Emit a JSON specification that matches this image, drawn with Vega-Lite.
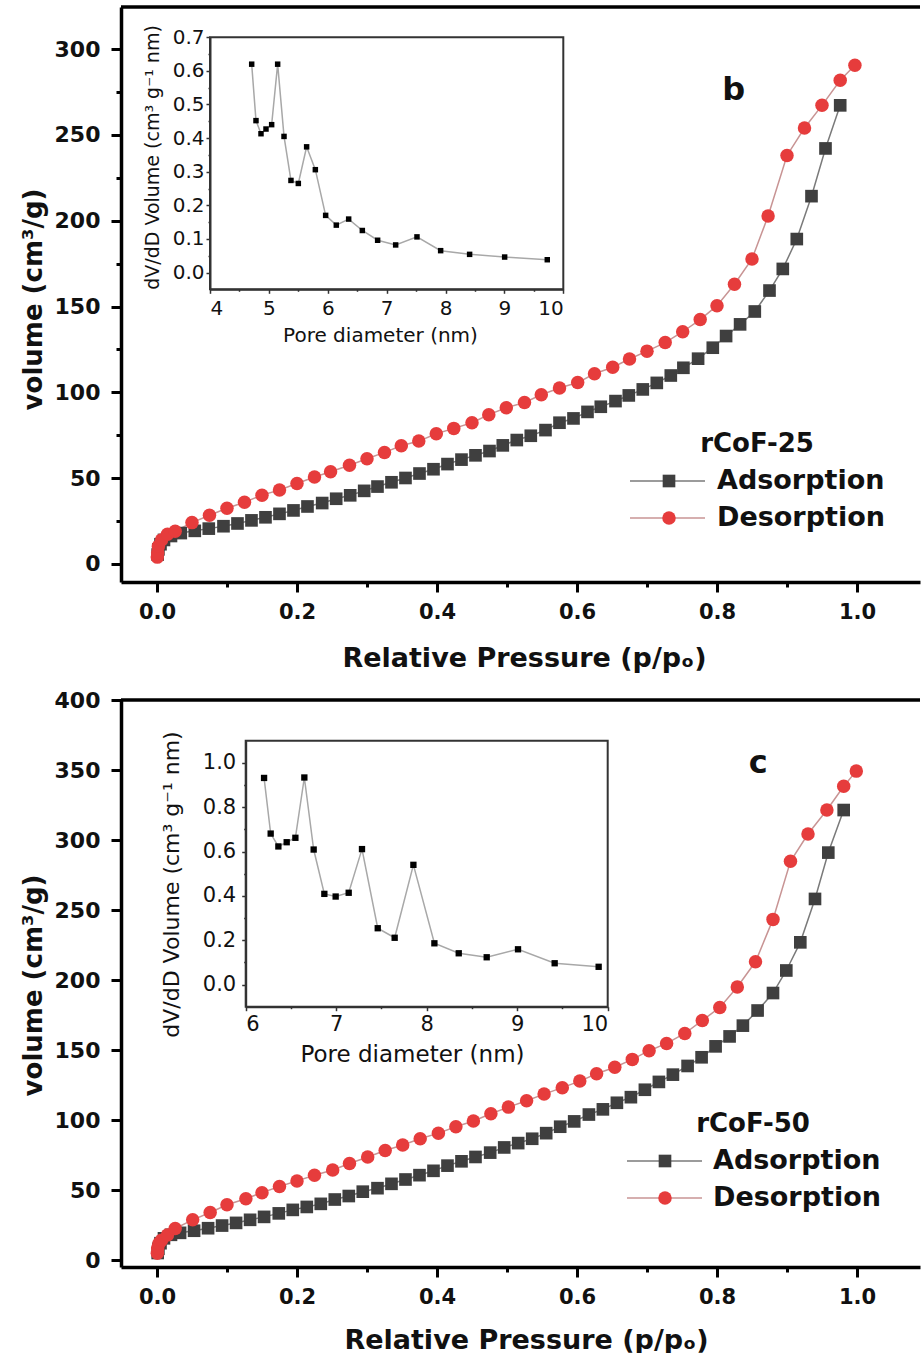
{
  "$schema": "https://vega.github.io/schema/vega-lite/v6.json",
  "background": "white",
  "padding": {"left": 20, "top": 5, "right": 0, "bottom": 0},
  "autosize": {"type": "pad"},
  "bounds": "flush",
  "spacing": 118,
  "resolve": {"scale": {"color": "independent", "shape": "independent", "size": "independent", "stroke": "independent"}, "legend": {"color": "independent", "stroke": "independent"}},
  "config": {
    "view": {"stroke": null},
    "axis": {
      "grid": false,
      "domainColor": "#000",
      "domainWidth": 3.5,
      "tickColor": "#000",
      "tickWidth": 3,
      "labelFont": "DejaVu Sans",
      "labelFontWeight": "bold",
      "labelColor": "#111",
      "titleFont": "DejaVu Sans",
      "titleFontWeight": "bold",
      "titleColor": "#111"
    },
    "legend": {
      "titleFont": "DejaVu Sans", "titleFontSize": 26, "titleFontWeight": "bold", "titleColor": "#111", "titlePadding": 10, "titleLimit": 0, "titleAnchor": "middle",
      "labelFont": "DejaVu Sans", "labelFontSize": 27, "labelFontWeight": "bold", "labelColor": "#111", "labelLimit": 0,
      "clipHeight": 28, "rowPadding": 9
    }
  },
  "datasets": {
    "iso25": [
      {"p": 0.001, "v": 5.5, "branch": "Adsorption"},
      {"p": 0.002, "v": 8.5, "branch": "Adsorption"},
      {"p": 0.005, "v": 11.5, "branch": "Adsorption"},
      {"p": 0.01, "v": 14.0, "branch": "Adsorption"},
      {"p": 0.02, "v": 16.3, "branch": "Adsorption"},
      {"p": 0.034, "v": 18.0, "branch": "Adsorption"},
      {"p": 0.054, "v": 19.3, "branch": "Adsorption"},
      {"p": 0.074, "v": 20.6, "branch": "Adsorption"},
      {"p": 0.095, "v": 22.0, "branch": "Adsorption"},
      {"p": 0.115, "v": 23.6, "branch": "Adsorption"},
      {"p": 0.135, "v": 25.4, "branch": "Adsorption"},
      {"p": 0.155, "v": 27.2, "branch": "Adsorption"},
      {"p": 0.175, "v": 29.2, "branch": "Adsorption"},
      {"p": 0.195, "v": 31.2, "branch": "Adsorption"},
      {"p": 0.215, "v": 33.5, "branch": "Adsorption"},
      {"p": 0.236, "v": 35.5, "branch": "Adsorption"},
      {"p": 0.256, "v": 38.0, "branch": "Adsorption"},
      {"p": 0.276, "v": 40.0, "branch": "Adsorption"},
      {"p": 0.296, "v": 42.6, "branch": "Adsorption"},
      {"p": 0.315, "v": 45.1, "branch": "Adsorption"},
      {"p": 0.335, "v": 47.6, "branch": "Adsorption"},
      {"p": 0.355, "v": 50.1, "branch": "Adsorption"},
      {"p": 0.375, "v": 52.7, "branch": "Adsorption"},
      {"p": 0.395, "v": 55.2, "branch": "Adsorption"},
      {"p": 0.415, "v": 58.2, "branch": "Adsorption"},
      {"p": 0.435, "v": 60.8, "branch": "Adsorption"},
      {"p": 0.455, "v": 63.3, "branch": "Adsorption"},
      {"p": 0.475, "v": 65.8, "branch": "Adsorption"},
      {"p": 0.494, "v": 69.1, "branch": "Adsorption"},
      {"p": 0.514, "v": 72.2, "branch": "Adsorption"},
      {"p": 0.534, "v": 74.7, "branch": "Adsorption"},
      {"p": 0.555, "v": 78.0, "branch": "Adsorption"},
      {"p": 0.575, "v": 82.3, "branch": "Adsorption"},
      {"p": 0.595, "v": 84.8, "branch": "Adsorption"},
      {"p": 0.615, "v": 88.6, "branch": "Adsorption"},
      {"p": 0.634, "v": 91.6, "branch": "Adsorption"},
      {"p": 0.655, "v": 94.9, "branch": "Adsorption"},
      {"p": 0.674, "v": 98.2, "branch": "Adsorption"},
      {"p": 0.694, "v": 101.7, "branch": "Adsorption"},
      {"p": 0.714, "v": 105.5, "branch": "Adsorption"},
      {"p": 0.734, "v": 109.8, "branch": "Adsorption"},
      {"p": 0.752, "v": 114.3, "branch": "Adsorption"},
      {"p": 0.773, "v": 119.6, "branch": "Adsorption"},
      {"p": 0.794, "v": 126.0, "branch": "Adsorption"},
      {"p": 0.813, "v": 132.8, "branch": "Adsorption"},
      {"p": 0.833, "v": 139.6, "branch": "Adsorption"},
      {"p": 0.854, "v": 147.1, "branch": "Adsorption"},
      {"p": 0.875, "v": 159.3, "branch": "Adsorption"},
      {"p": 0.894, "v": 171.9, "branch": "Adsorption"},
      {"p": 0.914, "v": 189.3, "branch": "Adsorption"},
      {"p": 0.935, "v": 214.3, "branch": "Adsorption"},
      {"p": 0.955, "v": 242.1, "branch": "Adsorption"},
      {"p": 0.976, "v": 267.2, "branch": "Adsorption"},
      {"p": 0.0005, "v": 4.0, "branch": "Desorption"},
      {"p": 0.001, "v": 6.5, "branch": "Desorption"},
      {"p": 0.002, "v": 10.3, "branch": "Desorption"},
      {"p": 0.0065, "v": 14.0, "branch": "Desorption"},
      {"p": 0.015, "v": 17.3, "branch": "Desorption"},
      {"p": 0.026, "v": 19.1, "branch": "Desorption"},
      {"p": 0.05, "v": 24.1, "branch": "Desorption"},
      {"p": 0.075, "v": 28.4, "branch": "Desorption"},
      {"p": 0.1, "v": 32.5, "branch": "Desorption"},
      {"p": 0.125, "v": 36.0, "branch": "Desorption"},
      {"p": 0.15, "v": 40.1, "branch": "Desorption"},
      {"p": 0.175, "v": 43.1, "branch": "Desorption"},
      {"p": 0.2, "v": 46.9, "branch": "Desorption"},
      {"p": 0.225, "v": 50.7, "branch": "Desorption"},
      {"p": 0.248, "v": 53.7, "branch": "Desorption"},
      {"p": 0.275, "v": 57.5, "branch": "Desorption"},
      {"p": 0.3, "v": 61.3, "branch": "Desorption"},
      {"p": 0.325, "v": 65.0, "branch": "Desorption"},
      {"p": 0.349, "v": 68.9, "branch": "Desorption"},
      {"p": 0.374, "v": 71.6, "branch": "Desorption"},
      {"p": 0.399, "v": 75.9, "branch": "Desorption"},
      {"p": 0.424, "v": 79.0, "branch": "Desorption"},
      {"p": 0.45, "v": 82.3, "branch": "Desorption"},
      {"p": 0.474, "v": 87.0, "branch": "Desorption"},
      {"p": 0.499, "v": 91.0, "branch": "Desorption"},
      {"p": 0.525, "v": 94.1, "branch": "Desorption"},
      {"p": 0.549, "v": 98.6, "branch": "Desorption"},
      {"p": 0.575, "v": 102.5, "branch": "Desorption"},
      {"p": 0.601, "v": 105.7, "branch": "Desorption"},
      {"p": 0.625, "v": 110.8, "branch": "Desorption"},
      {"p": 0.651, "v": 114.6, "branch": "Desorption"},
      {"p": 0.675, "v": 119.4, "branch": "Desorption"},
      {"p": 0.7, "v": 124.0, "branch": "Desorption"},
      {"p": 0.726, "v": 129.0, "branch": "Desorption"},
      {"p": 0.751, "v": 135.3, "branch": "Desorption"},
      {"p": 0.776, "v": 142.4, "branch": "Desorption"},
      {"p": 0.8, "v": 150.5, "branch": "Desorption"},
      {"p": 0.825, "v": 163.0, "branch": "Desorption"},
      {"p": 0.85, "v": 177.7, "branch": "Desorption"},
      {"p": 0.873, "v": 202.7, "branch": "Desorption"},
      {"p": 0.9, "v": 238.0, "branch": "Desorption"},
      {"p": 0.925, "v": 254.0, "branch": "Desorption"},
      {"p": 0.95, "v": 267.2, "branch": "Desorption"},
      {"p": 0.976, "v": 281.8, "branch": "Desorption"},
      {"p": 0.997, "v": 290.6, "branch": "Desorption"}
    ],
    "iso50": [
      {"p": 0.001, "v": 5.0, "branch": "Adsorption"},
      {"p": 0.002, "v": 8.0, "branch": "Adsorption"},
      {"p": 0.005, "v": 12.0, "branch": "Adsorption"},
      {"p": 0.01, "v": 15.5, "branch": "Adsorption"},
      {"p": 0.02, "v": 18.0, "branch": "Adsorption"},
      {"p": 0.033, "v": 19.4, "branch": "Adsorption"},
      {"p": 0.053, "v": 20.9, "branch": "Adsorption"},
      {"p": 0.073, "v": 22.7, "branch": "Adsorption"},
      {"p": 0.093, "v": 24.6, "branch": "Adsorption"},
      {"p": 0.113, "v": 26.5, "branch": "Adsorption"},
      {"p": 0.133, "v": 28.7, "branch": "Adsorption"},
      {"p": 0.153, "v": 30.8, "branch": "Adsorption"},
      {"p": 0.174, "v": 33.3, "branch": "Adsorption"},
      {"p": 0.194, "v": 35.8, "branch": "Adsorption"},
      {"p": 0.214, "v": 37.9, "branch": "Adsorption"},
      {"p": 0.234, "v": 40.1, "branch": "Adsorption"},
      {"p": 0.254, "v": 43.2, "branch": "Adsorption"},
      {"p": 0.274, "v": 45.7, "branch": "Adsorption"},
      {"p": 0.294, "v": 48.8, "branch": "Adsorption"},
      {"p": 0.315, "v": 51.3, "branch": "Adsorption"},
      {"p": 0.335, "v": 54.4, "branch": "Adsorption"},
      {"p": 0.355, "v": 57.5, "branch": "Adsorption"},
      {"p": 0.375, "v": 60.6, "branch": "Adsorption"},
      {"p": 0.395, "v": 63.7, "branch": "Adsorption"},
      {"p": 0.415, "v": 67.4, "branch": "Adsorption"},
      {"p": 0.435, "v": 70.5, "branch": "Adsorption"},
      {"p": 0.455, "v": 73.6, "branch": "Adsorption"},
      {"p": 0.476, "v": 76.7, "branch": "Adsorption"},
      {"p": 0.496, "v": 80.4, "branch": "Adsorption"},
      {"p": 0.516, "v": 83.5, "branch": "Adsorption"},
      {"p": 0.536, "v": 86.6, "branch": "Adsorption"},
      {"p": 0.556, "v": 90.6, "branch": "Adsorption"},
      {"p": 0.576, "v": 95.2, "branch": "Adsorption"},
      {"p": 0.596, "v": 99.0, "branch": "Adsorption"},
      {"p": 0.617, "v": 103.9, "branch": "Adsorption"},
      {"p": 0.637, "v": 107.6, "branch": "Adsorption"},
      {"p": 0.657, "v": 112.3, "branch": "Adsorption"},
      {"p": 0.677, "v": 116.3, "branch": "Adsorption"},
      {"p": 0.697, "v": 121.6, "branch": "Adsorption"},
      {"p": 0.717, "v": 127.2, "branch": "Adsorption"},
      {"p": 0.737, "v": 132.4, "branch": "Adsorption"},
      {"p": 0.758, "v": 138.6, "branch": "Adsorption"},
      {"p": 0.778, "v": 144.8, "branch": "Adsorption"},
      {"p": 0.798, "v": 152.6, "branch": "Adsorption"},
      {"p": 0.818, "v": 159.7, "branch": "Adsorption"},
      {"p": 0.837, "v": 167.4, "branch": "Adsorption"},
      {"p": 0.858, "v": 178.2, "branch": "Adsorption"},
      {"p": 0.88, "v": 190.7, "branch": "Adsorption"},
      {"p": 0.899, "v": 206.8, "branch": "Adsorption"},
      {"p": 0.919, "v": 226.9, "branch": "Adsorption"},
      {"p": 0.94, "v": 257.9, "branch": "Adsorption"},
      {"p": 0.959, "v": 291.0, "branch": "Adsorption"},
      {"p": 0.981, "v": 321.4, "branch": "Adsorption"},
      {"p": 0.0005, "v": 4.8, "branch": "Desorption"},
      {"p": 0.001, "v": 8.5, "branch": "Desorption"},
      {"p": 0.003, "v": 12.0, "branch": "Desorption"},
      {"p": 0.0065, "v": 14.1, "branch": "Desorption"},
      {"p": 0.015, "v": 17.8, "branch": "Desorption"},
      {"p": 0.026, "v": 22.5, "branch": "Desorption"},
      {"p": 0.051, "v": 28.7, "branch": "Desorption"},
      {"p": 0.076, "v": 33.9, "branch": "Desorption"},
      {"p": 0.1, "v": 39.5, "branch": "Desorption"},
      {"p": 0.127, "v": 43.8, "branch": "Desorption"},
      {"p": 0.15, "v": 48.1, "branch": "Desorption"},
      {"p": 0.175, "v": 52.5, "branch": "Desorption"},
      {"p": 0.2, "v": 56.5, "branch": "Desorption"},
      {"p": 0.225, "v": 60.5, "branch": "Desorption"},
      {"p": 0.251, "v": 64.3, "branch": "Desorption"},
      {"p": 0.275, "v": 68.9, "branch": "Desorption"},
      {"p": 0.301, "v": 73.6, "branch": "Desorption"},
      {"p": 0.326, "v": 78.2, "branch": "Desorption"},
      {"p": 0.351, "v": 82.2, "branch": "Desorption"},
      {"p": 0.376, "v": 86.6, "branch": "Desorption"},
      {"p": 0.402, "v": 90.6, "branch": "Desorption"},
      {"p": 0.427, "v": 95.2, "branch": "Desorption"},
      {"p": 0.452, "v": 99.3, "branch": "Desorption"},
      {"p": 0.477, "v": 104.5, "branch": "Desorption"},
      {"p": 0.502, "v": 109.2, "branch": "Desorption"},
      {"p": 0.528, "v": 113.8, "branch": "Desorption"},
      {"p": 0.553, "v": 118.5, "branch": "Desorption"},
      {"p": 0.579, "v": 123.1, "branch": "Desorption"},
      {"p": 0.604, "v": 127.8, "branch": "Desorption"},
      {"p": 0.628, "v": 133.0, "branch": "Desorption"},
      {"p": 0.654, "v": 137.7, "branch": "Desorption"},
      {"p": 0.679, "v": 143.3, "branch": "Desorption"},
      {"p": 0.703, "v": 149.5, "branch": "Desorption"},
      {"p": 0.728, "v": 154.7, "branch": "Desorption"},
      {"p": 0.754, "v": 161.8, "branch": "Desorption"},
      {"p": 0.779, "v": 171.1, "branch": "Desorption"},
      {"p": 0.804, "v": 180.4, "branch": "Desorption"},
      {"p": 0.829, "v": 195.0, "branch": "Desorption"},
      {"p": 0.855, "v": 213.0, "branch": "Desorption"},
      {"p": 0.88, "v": 243.3, "branch": "Desorption"},
      {"p": 0.905, "v": 284.8, "branch": "Desorption"},
      {"p": 0.93, "v": 304.3, "branch": "Desorption"},
      {"p": 0.957, "v": 321.4, "branch": "Desorption"},
      {"p": 0.981, "v": 338.4, "branch": "Desorption"},
      {"p": 0.999, "v": 349.2, "branch": "Desorption"}
    ],
    "psd25": [
      {"d": 4.708, "dv": 0.62},
      {"d": 4.781, "dv": 0.452},
      {"d": 4.866, "dv": 0.413},
      {"d": 4.951, "dv": 0.427},
      {"d": 5.047, "dv": 0.44},
      {"d": 5.149, "dv": 0.62},
      {"d": 5.257, "dv": 0.405},
      {"d": 5.375, "dv": 0.274},
      {"d": 5.5, "dv": 0.265},
      {"d": 5.641, "dv": 0.374},
      {"d": 5.789, "dv": 0.306},
      {"d": 5.964, "dv": 0.17},
      {"d": 6.145, "dv": 0.141},
      {"d": 6.355, "dv": 0.159},
      {"d": 6.587, "dv": 0.125},
      {"d": 6.847, "dv": 0.096},
      {"d": 7.153, "dv": 0.082},
      {"d": 7.515, "dv": 0.106},
      {"d": 7.917, "dv": 0.065},
      {"d": 8.409, "dv": 0.054},
      {"d": 9.004, "dv": 0.046},
      {"d": 9.728, "dv": 0.038}
    ],
    "psd50": [
      {"d": 6.203, "dv": 0.932},
      {"d": 6.276, "dv": 0.681},
      {"d": 6.361, "dv": 0.623},
      {"d": 6.453, "dv": 0.642},
      {"d": 6.549, "dv": 0.662},
      {"d": 6.648, "dv": 0.934},
      {"d": 6.751, "dv": 0.609},
      {"d": 6.869, "dv": 0.409},
      {"d": 6.994, "dv": 0.397},
      {"d": 7.138, "dv": 0.414},
      {"d": 7.285, "dv": 0.611},
      {"d": 7.459, "dv": 0.254},
      {"d": 7.646, "dv": 0.211},
      {"d": 7.853, "dv": 0.54},
      {"d": 8.085, "dv": 0.186},
      {"d": 8.354, "dv": 0.141},
      {"d": 8.663, "dv": 0.123},
      {"d": 9.009, "dv": 0.159},
      {"d": 9.414, "dv": 0.096},
      {"d": 9.9, "dv": 0.08}
    ]
  },
  "vconcat": [
    {
      "width": 799,
      "height": 575,
      "layer": [
        {
          "data": {"name": "iso25"},
          "layer": [
            {
              "mark": {"type": "line", "strokeWidth": 1.5},
              "encoding": {
                "x": {"field": "p", "type": "quantitative",
                  "scale": {"domain": [-0.0514, 1.09], "nice": false, "zero": false},
                  "axis": {"orient": "bottom", "title": "Relative Pressure (p/pₒ)",
                    "values": [0, 0.1, 0.2, 0.3, 0.4, 0.5, 0.6, 0.7, 0.8, 0.9, 1],
                    "labelExpr": "round(datum.value*10) % 2 == 0 ? format(datum.value, '.1f') : ''",
                    "tickSize": {"condition": {"test": "round(datum.value*10) % 2 == 1", "value": 5}, "value": 10},
                    "labelFontSize": 21, "labelPadding": 9,
                    "titleFontSize": 27, "titleX": 403, "titleY": 76, "titleBaseline": "middle"}},
                "y": {"field": "v", "type": "quantitative",
                  "scale": {"domain": [-10.5, 324.5], "nice": false, "zero": false},
                  "axis": {"orient": "left", "title": "volume (cm³/g)",
                    "values": [0, 25, 50, 75, 100, 125, 150, 175, 200, 225, 250, 275, 300],
                    "labelExpr": "datum.value % 50 == 0 ? format(datum.value, 'd') : ''",
                    "tickSize": {"condition": {"test": "datum.value % 50 != 0", "value": 5}, "value": 10},
                    "labelFontSize": 22, "labelPadding": 11,
                    "titleFontSize": 26, "titleX": -88, "titleY": 292, "titleBaseline": "middle"}},
                "stroke": {"field": "branch", "type": "nominal",
                  "scale": {"range": ["#7a7a7a", "#c89494"]},
                  "legend": {"orient": "none", "legendX": 508, "legendY": 460, "title": null,
                    "symbolType": "stroke", "symbolSize": 5625, "symbolStrokeWidth": 1.5,
                    "labelExpr": "''", "labelOffset": 10}}
              }
            },
            {
              "mark": {"type": "point", "filled": true, "opacity": 1},
              "encoding": {
                "x": {"field": "p", "type": "quantitative"},
                "y": {"field": "v", "type": "quantitative"},
                "shape": {"field": "branch", "type": "nominal", "scale": {"domain": ["Adsorption", "Desorption"], "range": ["square", "circle"]}, "legend": null},
                "size": {"field": "branch", "type": "nominal", "scale": {"domain": ["Adsorption", "Desorption"], "range": [160, 182]}, "legend": null},
                "color": {"field": "branch", "type": "nominal",
                  "scale": {"domain": ["Adsorption", "Desorption"], "range": ["#3f3f3f", "#e63c3c"]},
                  "legend": {"orient": "none", "legendX": 508, "legendY": 424, "title": "rCoF-25",
                    "symbolOffset": 26.5, "labelOffset": 34.5, "symbolStrokeWidth": 0}}
              }
            },
            {
              "data": {"values": [{"top": 324.5}]},
              "mark": {"type": "rule", "color": "#000", "strokeWidth": 3.5},
              "encoding": {"y": {"field": "top", "type": "quantitative"}}
            },
            {
              "data": {"values": [{"px": 0.824, "py": 270.3, "label": "b"}]},
              "mark": {"type": "text", "font": "DejaVu Sans", "fontWeight": "bold", "fontSize": 32, "align": "center", "baseline": "alphabetic", "color": "#111"},
              "encoding": {"x": {"field": "px", "type": "quantitative"}, "y": {"field": "py", "type": "quantitative"}, "text": {"field": "label"}}
            }
          ]
        },
        {
          "data": {"name": "psd25"},
          "layer": [
            {
              "mark": {"type": "line", "color": "#a8a8a8", "strokeWidth": 1.5},
              "encoding": {
                "x": {"field": "d", "type": "quantitative",
                  "scale": {"domain": [4, 10], "range": [89, 442.3], "nice": false, "zero": false},
                  "axis": {"orient": "bottom", "offset": -292.7, "title": "Pore diameter (nm)",
                    "values": [4, 4.5, 5, 5.5, 6, 6.5, 7, 7.5, 8, 8.5, 9, 9.5, 10],
                    "labelExpr": "datum.value % 1 == 0 ? format(datum.value, 'd') : ''",
                    "tickSize": {"condition": {"test": "datum.value % 1 != 0", "value": 2}, "value": 4},
                    "domainColor": "#333", "domainWidth": 2, "tickColor": "#333", "tickWidth": 1.5,
                    "labelFontWeight": "normal", "labelFontSize": 20, "labelPadding": 5,
                    "titleFontWeight": "normal", "titleFontSize": 20, "titleX": 259, "titleY": 46, "titleBaseline": "middle"}},
                "y": {"field": "dv", "type": "quantitative",
                  "scale": {"domain": [-0.05, 0.7], "range": [282.3, 30.3], "nice": false, "zero": false},
                  "axis": {"orient": "left", "offset": -89, "title": "dV/dD Volume (cm³ g⁻¹ nm)",
                    "values": [0, 0.05, 0.1, 0.15, 0.2, 0.25, 0.3, 0.35, 0.4, 0.45, 0.5, 0.55, 0.6, 0.65, 0.7],
                    "labelExpr": "round(datum.value*100) % 10 == 0 ? format(datum.value, '.1f') : ''",
                    "tickSize": {"condition": {"test": "round(datum.value*100) % 10 != 0", "value": 2}, "value": 4},
                    "domainColor": "#333", "domainWidth": 2, "tickColor": "#333", "tickWidth": 1.5,
                    "labelFontWeight": "normal", "labelFontSize": 20, "labelPadding": 2,
                    "titleFontWeight": "normal", "titleFontSize": 19, "titleX": -58, "titleY": 150, "titleBaseline": "middle"}}
              }
            },
            {
              "mark": {"type": "point", "shape": "square", "filled": true, "color": "#000", "size": 30, "opacity": 1},
              "encoding": {
                "x": {"field": "d", "type": "quantitative"},
                "y": {"field": "dv", "type": "quantitative"}
              }
            },
            {
              "data": {"values": [{"x1": 4, "x2": 10, "y1": -0.05, "y2": 0.7}]},
              "mark": {"type": "rect", "filled": false, "stroke": "#333", "strokeWidth": 2},
              "encoding": {"x": {"field": "x1", "type": "quantitative"}, "x2": {"field": "x2"}, "y": {"field": "y1", "type": "quantitative"}, "y2": {"field": "y2"}}
            }
          ]
        }
      ],
      "resolve": {"scale": {"x": "independent", "y": "independent"}, "axis": {"x": "independent", "y": "independent"}}
    },
    {
      "width": 799,
      "height": 567,
      "layer": [
        {
          "data": {"name": "iso50"},
          "layer": [
            {
              "mark": {"type": "line", "strokeWidth": 1.5},
              "encoding": {
                "x": {"field": "p", "type": "quantitative",
                  "scale": {"domain": [-0.0514, 1.09], "nice": false, "zero": false},
                  "axis": {"orient": "bottom", "title": "Relative Pressure (p/pₒ)",
                    "values": [0, 0.1, 0.2, 0.3, 0.4, 0.5, 0.6, 0.7, 0.8, 0.9, 1],
                    "labelExpr": "round(datum.value*10) % 2 == 0 ? format(datum.value, '.1f') : ''",
                    "tickSize": {"condition": {"test": "round(datum.value*10) % 2 == 1", "value": 5}, "value": 10},
                    "labelFontSize": 21, "labelPadding": 9,
                    "titleFontSize": 27, "titleX": 405, "titleY": 73, "titleBaseline": "middle"}},
                "y": {"field": "v", "type": "quantitative",
                  "scale": {"domain": [-5, 400], "nice": false, "zero": false},
                  "axis": {"orient": "left", "title": "volume (cm³/g)",
                    "values": [0, 25, 50, 75, 100, 125, 150, 175, 200, 225, 250, 275, 300, 325, 350, 375, 400],
                    "labelExpr": "datum.value % 50 == 0 ? format(datum.value, 'd') : ''",
                    "tickSize": {"condition": {"test": "datum.value % 50 != 0", "value": 5}, "value": 10},
                    "labelFontSize": 22, "labelPadding": 11,
                    "titleFontSize": 26, "titleX": -88, "titleY": 285, "titleBaseline": "middle"}},
                "stroke": {"field": "branch", "type": "nominal",
                  "scale": {"range": ["#7a7a7a", "#c89494"]},
                  "legend": {"orient": "none", "legendX": 505, "legendY": 447, "title": null,
                    "symbolType": "stroke", "symbolSize": 5625, "symbolStrokeWidth": 1.5,
                    "labelExpr": "''", "labelOffset": 10}}
              }
            },
            {
              "mark": {"type": "point", "filled": true, "opacity": 1},
              "encoding": {
                "x": {"field": "p", "type": "quantitative"},
                "y": {"field": "v", "type": "quantitative"},
                "shape": {"field": "branch", "type": "nominal", "scale": {"domain": ["Adsorption", "Desorption"], "range": ["square", "circle"]}, "legend": null},
                "size": {"field": "branch", "type": "nominal", "scale": {"domain": ["Adsorption", "Desorption"], "range": [160, 182]}, "legend": null},
                "color": {"field": "branch", "type": "nominal",
                  "scale": {"domain": ["Adsorption", "Desorption"], "range": ["#3f3f3f", "#e63c3c"]},
                  "legend": {"orient": "none", "legendX": 505, "legendY": 411, "title": "rCoF-50",
                    "symbolOffset": 25.5, "labelOffset": 34.5, "symbolStrokeWidth": 0}}
              }
            },
            {
              "data": {"values": [{"top": 400}]},
              "mark": {"type": "rule", "color": "#000", "strokeWidth": 3.5},
              "encoding": {"y": {"field": "top", "type": "quantitative"}}
            },
            {
              "data": {"values": [{"px": 0.859, "py": 347.9, "label": "c"}]},
              "mark": {"type": "text", "font": "DejaVu Sans", "fontWeight": "bold", "fontSize": 32, "align": "center", "baseline": "alphabetic", "color": "#111"},
              "encoding": {"x": {"field": "px", "type": "quantitative"}, "y": {"field": "py", "type": "quantitative"}, "text": {"field": "label"}}
            }
          ]
        },
        {
          "data": {"name": "psd50"},
          "layer": [
            {
              "mark": {"type": "line", "color": "#a8a8a8", "strokeWidth": 1.5},
              "encoding": {
                "x": {"field": "d", "type": "quantitative",
                  "scale": {"domain": [6, 10], "range": [124.7, 486.7], "nice": false, "zero": false},
                  "axis": {"orient": "bottom", "offset": -260.3, "title": "Pore diameter (nm)",
                    "values": [6, 6.5, 7, 7.5, 8, 8.5, 9, 9.5, 10],
                    "labelExpr": "datum.value % 1 == 0 ? format(datum.value, 'd') : ''",
                    "tickSize": {"condition": {"test": "datum.value % 1 != 0", "value": 2}, "value": 4},
                    "domainColor": "#333", "domainWidth": 2, "tickColor": "#333", "tickWidth": 1.5,
                    "labelFontWeight": "normal", "labelFontSize": 21, "labelPadding": 3,
                    "titleFontWeight": "normal", "titleFontSize": 23, "titleX": 291, "titleY": 48, "titleBaseline": "middle"}},
                "y": {"field": "dv", "type": "quantitative",
                  "scale": {"domain": [-0.1, 1.1], "range": [306.7, 40.7], "nice": false, "zero": false},
                  "axis": {"orient": "left", "offset": -124.7, "title": "dV/dD Volume (cm³ g⁻¹ nm)",
                    "values": [0, 0.1, 0.2, 0.3, 0.4, 0.5, 0.6, 0.7, 0.8, 0.9, 1],
                    "labelExpr": "round(datum.value*10) % 2 == 0 ? format(datum.value, '.1f') : ''",
                    "tickSize": {"condition": {"test": "round(datum.value*10) % 2 == 1", "value": 2}, "value": 4},
                    "domainColor": "#333", "domainWidth": 2, "tickColor": "#333", "tickWidth": 1.5,
                    "labelFontWeight": "normal", "labelFontSize": 21, "labelPadding": 6,
                    "titleFontWeight": "normal", "titleFontSize": 22, "titleX": -74.7, "titleY": 184, "titleBaseline": "middle"}}
              }
            },
            {
              "mark": {"type": "point", "shape": "square", "filled": true, "color": "#000", "size": 40, "opacity": 1},
              "encoding": {
                "x": {"field": "d", "type": "quantitative"},
                "y": {"field": "dv", "type": "quantitative"}
              }
            },
            {
              "data": {"values": [{"x1": 6, "x2": 10, "y1": -0.1, "y2": 1.1}]},
              "mark": {"type": "rect", "filled": false, "stroke": "#333", "strokeWidth": 2},
              "encoding": {"x": {"field": "x1", "type": "quantitative"}, "x2": {"field": "x2"}, "y": {"field": "y1", "type": "quantitative"}, "y2": {"field": "y2"}}
            }
          ]
        }
      ],
      "resolve": {"scale": {"x": "independent", "y": "independent"}, "axis": {"x": "independent", "y": "independent"}}
    }
  ]
}
